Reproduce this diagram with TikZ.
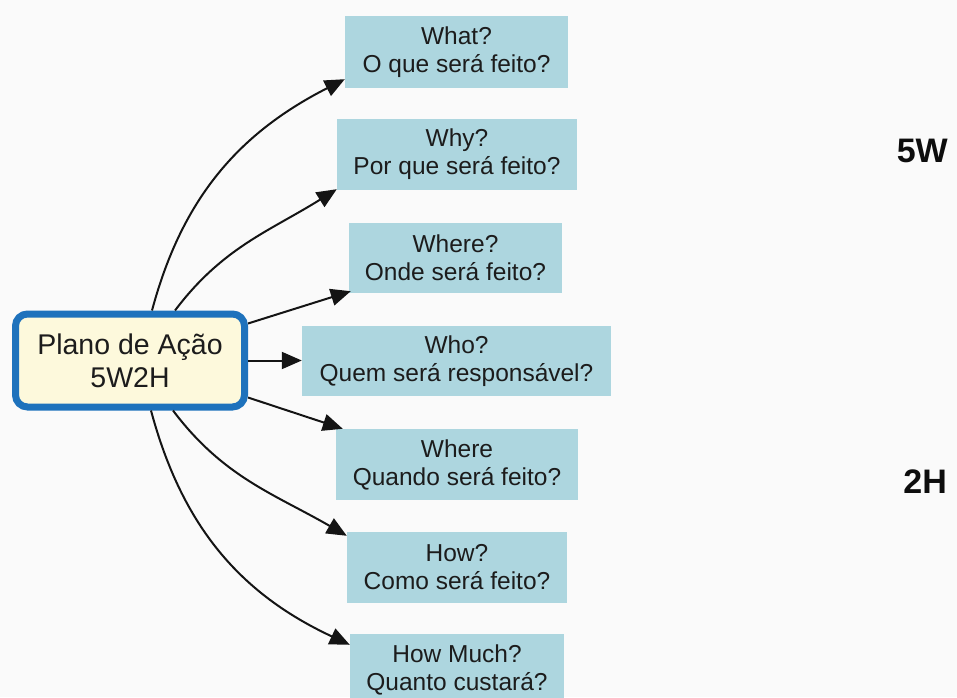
\documentclass[tikz,border=0pt]{standalone}
\usepackage{fontspec}
\setmainfont{Liberation Sans}
\usetikzlibrary{arrows.meta,calc}
\definecolor{bg}{HTML}{FAFAFA}
\definecolor{boxblue}{HTML}{ADD6DF}
\definecolor{cream}{HTML}{FDF9DC}
\definecolor{planblue}{HTML}{1E72BC}
\definecolor{txt}{HTML}{1C1C1C}
\begin{document}
\begin{tikzpicture}[x=1pt,y=1pt,
  qbox/.style={fill=boxblue, inner sep=0pt, align=center, text=txt,
    font=\fontsize{24.5}{28}\selectfont},
  planbox/.style={draw=planblue, line width=7pt, rounded corners=12pt, fill=cream,
    inner sep=0pt, align=center, text=txt, font=\fontsize{28.5}{33}\selectfont},
  conn/.style={draw=black!92, line width=2pt, -{Triangle[length=20pt,width=17pt]}},
  bigtag/.style={inner sep=0pt, text=black!95, font=\fontsize{34}{40}\selectfont\bfseries}]
\fill[bg] (0,0) rectangle (957,697);
\useasboundingbox (0,0) rectangle (957,697);

\node[planbox, minimum width=229pt, minimum height=93pt] (plan) at (130,336.5) {Plano de Ação\\5W2H};

\node[qbox, minimum width=223pt, minimum height=72pt] (what) at (456.5,645) {What?\\O que será feito?};
\node[qbox, minimum width=240pt, minimum height=71pt] (why) at (457,542.5) {Why?\\Por que será feito?};
\node[qbox, minimum width=213pt, minimum height=70pt] (where) at (455.5,439) {Where?\\Onde será feito?};
\node[qbox, minimum width=309pt, minimum height=70pt] (who) at (456.5,336) {Who?\\Quem será responsável?};
\node[qbox, minimum width=242pt, minimum height=71pt] (when) at (457,232.5) {Where\\Quando será feito?};
\node[qbox, minimum width=220pt, minimum height=71pt] (how) at (457,129.5) {How?\\Como será feito?};
\node[qbox, minimum width=214pt, minimum height=71pt] (howmuch) at (457,27.5) {How Much?\\Quanto custará?};

\node[bigtag, anchor=base east] (fivew) at (948,534) {5W};
\node[bigtag, anchor=base east] (twoh) at (947,204) {2H};

\draw[conn] ($(plan.north)+(22,0)$) to[out=75,in=207] ($(what.south west)+(0,9)$);
\draw[conn] ($(plan.north)+(45,0)$) to[out=53,in=212] ($(why.south west)+(0,1)$);
\draw[conn] ($(plan.east)+(0,37)$) -- ($(where.south west)+(2,2)$);
\draw[conn] (plan.east) -- (plan.east -| who.west);
\draw[conn] ($(plan.east)+(0,-37)$) -- ($(when.north west)+(7,0)$);
\draw[conn] ($(plan.south)+(43,0)$) to[out=-53,in=150] ($(how.north west)+(0,-4)$);
\draw[conn] ($(plan.south)+(21,0)$) to[out=-75,in=155] ($(howmuch.north west)+(0,-11)$);
\end{tikzpicture}
\end{document}
